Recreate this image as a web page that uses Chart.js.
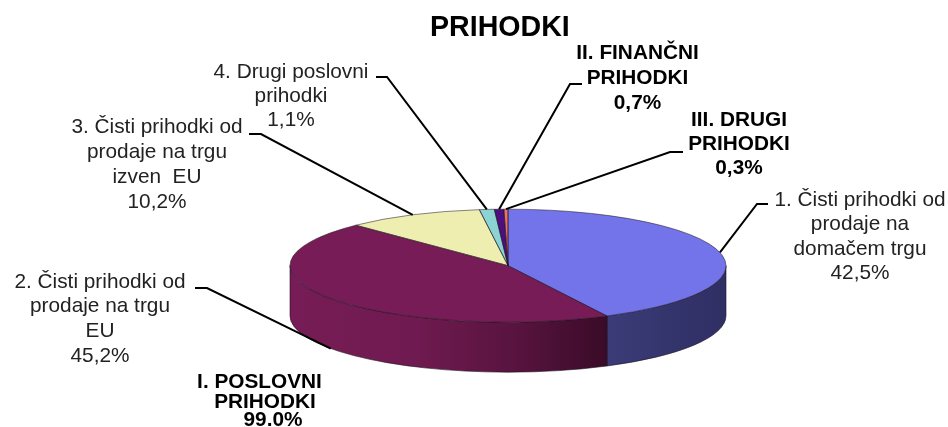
<!DOCTYPE html>
<html>
<head>
<meta charset="utf-8">
<title>PRIHODKI</title>
<script src="https://cdn.jsdelivr.net/npm/chart.js@4"></script>
<style>
  html, body { margin: 0; padding: 0; background: #fff; }
  canvas { display: block; }
</style>
</head>
<body>
<canvas id="pieChart" width="948" height="427"></canvas>
<script>
// data
var chartTitle = "PRIHODKI";
var categories = [
	["1. Čisti prihodki od", "prodaje na", "domačem trgu"],
	["2. Čisti prihodki od", "prodaje na trgu", "EU"],
	["3. Čisti prihodki od", "prodaje na trgu", "izven  EU"],
	["4. Drugi poslovni", "prihodki"],
	["II. FINANČNI", "PRIHODKI"],
	["III. DRUGI", "PRIHODKI"]
];
var values = [42.5, 45.2, 10.2, 1.1, 0.7, 0.3];
var groupLabel = ["I. POSLOVNI", "PRIHODKI", "99.0%"];

// colours
var topColors = ["#7373EA", "#771C56", "#EEEEB0", "#8CD3D3", "#4B0F7F", "#F0706A"];
var wallStops = [
	[[0, "#3B3B78"], [1, "#2F2F64"]],
	[[0, "#771C56"], [0.4, "#6F1A50"], [0.7, "#591440"], [1, "#3A0B28"]]
];

// label layout: centre x, y of first line, line height, bold
var labelX = [860, 100, 157, 291, 637.5, 739];
var labelY = [200, 282, 127, 72, 53, 120];
var labelGap = [24.5, 24.6, 25, 24, 25, 24];
var labelBold = [false, false, false, false, true, true];
// elbow of each leader: [x at label, x at bend, y]
var leaderElbow = [[768, 757, 204], [195, 207, 288], [249, 261, 134], [376, 387, 77], [582, 570, 84], [683, 670, 152]];
var groupX = [259.5, 265, 273];
var groupY = [382, 402, 420];

// shape of the tilted pie, on screen
var RX = 218, RY = 56.5, DEPTH = 50;

function pctText(v) {
	return String(v).replace(".", ",") + "%";
}

function wallPath(ctx, x, y, a, b) {
	ctx.beginPath();
	ctx.ellipse(x, y, RX, RY, 0, a, b);
	ctx.ellipse(x, y + DEPTH, RX, RY, 0, b, a, true);
	ctx.closePath();
}

var tiltedPie = {
	id: "tiltedPie",
	beforeDatasetsDraw: function (chart) {
		var ctx = chart.ctx;
		var arcs = chart.getDatasetMeta(0).data;
		ctx.save();
		arcs.forEach(function (arc, i) {
			var a = Math.max(arc.startAngle, 0);
			var b = Math.min(arc.endAngle, Math.PI);
			if (b <= a) return;
			var x0 = arc.x + RX * Math.cos(b);
			var x1 = arc.x + RX * Math.cos(a);
			var grad = ctx.createLinearGradient(x0, 0, x1, 0);
			// stops run from the left end of the wall
			var stops = wallStops[i] || [[0, topColors[i]], [1, topColors[i]]];
			stops.forEach(function (s) { grad.addColorStop(s[0], s[1]); });
			wallPath(ctx, arc.x, arc.y, a, b);
			ctx.fillStyle = grad;
			ctx.fill();
			ctx.strokeStyle = "#1c1020";
			ctx.lineWidth = 0.6;
			ctx.stroke();
		});
		ctx.restore();
		// squash the library's own arcs into the ellipse
		var first = arcs[0];
		ctx.save();
		ctx.translate(first.x, first.y);
		ctx.scale(RX / first.outerRadius, RY / first.outerRadius);
		ctx.translate(-first.x, -first.y);
	},
	afterDatasetsDraw: function (chart) {
		var ctx = chart.ctx;
		ctx.restore();
		var arcs = chart.getDatasetMeta(0).data;

		// slice outlines
		ctx.save();
		ctx.strokeStyle = "rgba(30,20,30,0.75)";
		ctx.lineWidth = 0.7;
		arcs.forEach(function (arc) {
			ctx.beginPath();
			ctx.moveTo(arc.x, arc.y);
			ctx.ellipse(arc.x, arc.y, RX, RY, 0, arc.startAngle, arc.endAngle);
			ctx.closePath();
			ctx.stroke();
		});
		ctx.restore();

		// leaders, ending at the middle of each slice's rim
		ctx.save();
		ctx.strokeStyle = "#000";
		ctx.lineWidth = 2;
		arcs.forEach(function (arc, i) {
			var mid = (arc.startAngle + arc.endAngle) / 2;
			var ex = arc.x + RX * Math.cos(mid);
			var ey = arc.y + RY * Math.sin(mid);
			if (Math.sin(mid) > 0) ey += DEPTH;
			var e = leaderElbow[i];
			ctx.beginPath();
			ctx.moveTo(e[0], e[2]);
			ctx.lineTo(e[1], e[2]);
			ctx.lineTo(ex, ey);
			ctx.stroke();
		});
		ctx.restore();

		// data labels
		ctx.save();
		ctx.textAlign = "center";
		ctx.textBaseline = "middle";
		categories.forEach(function (lines, i) {
			ctx.font = (labelBold[i] ? "bold " : "") + "20.8px 'Liberation Sans'";
			ctx.fillStyle = labelBold[i] ? "#000" : "#222";
			lines.concat(pctText(values[i])).forEach(function (line, j) {
				ctx.fillText(line, labelX[i], labelY[i] + j * labelGap[i]);
			});
		});
		ctx.font = "bold 20.8px 'Liberation Sans'";
		ctx.fillStyle = "#000";
		groupLabel.forEach(function (line, j) {
			ctx.fillText(line, groupX[j], groupY[j]);
		});
		ctx.restore();
	}
};

new Chart(document.getElementById("pieChart"), {
	type: "pie",
	data: {
		labels: categories.map(function (c) { return c.join(" "); }),
		datasets: [{
			data: values,
			backgroundColor: topColors,
			borderWidth: 0,
			clip: false
		}]
	},
	options: {
		responsive: false,
		animation: false,
		layout: { padding: { left: 430, right: 362, top: 0, bottom: 57 } },
		plugins: {
			legend: { display: false },
			tooltip: { enabled: false },
			title: {
				display: true,
				text: chartTitle,
				align: "start",
				color: "#000",
				font: { family: "'Liberation Sans'", size: 28.6, weight: "bold" },
				padding: { top: 11, bottom: 116 }
			}
		}
	},
	plugins: [tiltedPie]
});
</script>
</body>
</html>
